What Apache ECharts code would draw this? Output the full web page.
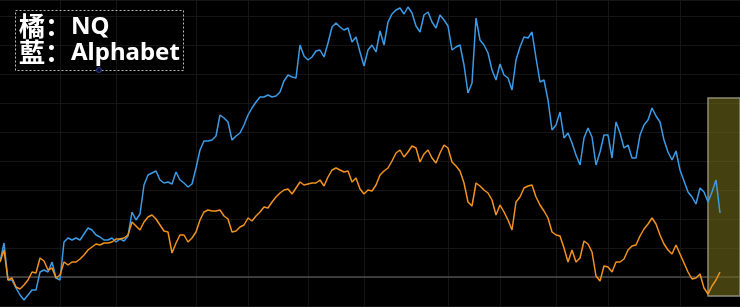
<!DOCTYPE html>
<html>
<head>
<meta charset="utf-8">
<script src="https://cdn.jsdelivr.net/npm/echarts@6/dist/echarts.min.js"></script>
<style>
html,body{margin:0;padding:0;background:#000;}
#c{width:740px;height:307px;}
</style>
</head>
<body>
<div id="c"></div>
<script>
// Relative performance (%), sampled every trading step
const alphabet = [7.5,17,-1.5,-1.5,-5.5,-9,-11.5,-9,-6.5,-6.5,2.5,3.5,2.5,7.5,-0.5,-1.5,17.5,19.5,18.5,19.5,
18.5,21.5,24.5,23.5,21,20,18.5,18.5,19.5,17.5,19,18,20.5,32.5,28.5,31.5,46,51,52,53,
48.5,47,47.5,46.5,52.5,48.5,47,45,46.5,54.5,63.5,68,68,68.5,70.5,81,79.5,77.5,68.5,70.5,
72,76,81,84.5,87.5,90,90,91,90,90.5,92.5,98,101,100,99.5,116,110.5,108.5,110,113,
113.5,110,117,125,127,125,123.5,124.5,117.5,120,112.5,105.5,113.5,116,112.5,123,116,127.5,131.5,133.5,
134.5,131.5,135,132,125.5,122.5,131,132.5,127.5,124.5,131,128.5,125.5,113.5,115,116,106,92,97,129.5,
118.5,116,112,103.5,98.5,106.5,101,99.5,93.5,108.5,115,120,119.5,122.5,109.5,97.5,98.5,88.5,73.5,76,
82.5,69.5,72,67,61,56,69.5,74.5,70,56,62.5,71,71,59.5,77.5,72,64.5,66,59.5,59.5,
71,76,78.5,84.5,80.5,77.5,68.5,62.5,58.5,63,53.5,48,42.5,40,36.5,44.5,42.5,37.5,42.5,48.5,
32];
const nq = [7.5,13.5,-1.5,-0.5,-5,-6,-4,-1.5,2.5,2,9.5,8,3.5,4.5,-0.5,1,7.5,6,7.5,7.5,
9,11,13.5,15,16.5,16,17,17,17.5,19,19,19.5,21,27.5,25.5,23.5,27.5,30,31,29,
26,23,22.5,12,17,21,21,17.5,19.5,22.5,28.5,32.5,33.5,33,33,33.5,30.5,29,22.5,23,
25,26,29.5,28,30.5,32.5,35,34.5,37.5,40,42,43.5,44,41.5,44.5,47.5,46,46.5,47,47,
48.5,45.5,50,53.5,54.5,53.5,52.5,53,47.5,49.5,44,41.5,43.5,43,46,51,53,54.5,58,62,
63.5,60,62.5,65.5,64.5,57.5,61.5,63.5,59.5,57,62,66,64.5,57.5,55.5,53,47,37.5,35.5,47,
45.5,43.5,42,38.5,31,36,32.5,28.5,23.5,37.5,40,44.5,45.5,46,40,36,33,29.5,22.5,21,
20.5,14.5,7.5,13.5,7.5,9.5,18,16.5,12.5,0.5,-2,5.5,5,2.5,7.5,7.5,9,13.5,15.5,16,
20.5,24,26.5,29.5,26.5,21,16.5,13.5,11.5,16,11.5,7,2.5,-1,-0.5,1.5,-5.5,-8.5,-4.5,-1.5,
2.5];
const dayCount = 186;
const days = Array.from({length: dayCount}, (_, i) => 'D' + i);
const monthStarts = [15, 29, 49, 62, 77, 91, 112, 125, 139, 152, 170];
const highlightFrom = 177, highlightTo = 185;
const highlightHigh = 89.5, highlightLow = -9.5;
const legendKeys = ['橘：', '藍：'];
const legendNames = ['NQ', 'Alphabet'];

const chart = echarts.init(document.getElementById('c'), null, {renderer: 'canvas'});
const monthSet = new Set(monthStarts);
const cjkFont = 'bold 26px "Noto Sans CJK SC", sans-serif';
const latinFont = 'bold 24px "Noto Sans", "Open Sans", sans-serif';
chart.setOption({
  backgroundColor: '#000',
  animation: false,
  grid: {left: 0, right: 0, top: 0, bottom: 1, containLabel: false},
  xAxis: {
    type: 'category', data: days, boundaryGap: false,
    axisLine: {show: true, onZero: true, lineStyle: {color: '#4d4d4d', width: 1.5}},
    axisTick: {show: false}, axisLabel: {show: false},
    splitLine: {show: true, interval: (i) => monthSet.has(i), lineStyle: {color: '#161616', width: 1}}
  },
  yAxis: {
    type: 'value', min: -14.5, max: 138.5, interval: 14.5,
    axisLine: {show: false}, axisTick: {show: false}, axisLabel: {show: false},
    splitLine: {show: true, lineStyle: {color: '#151515', width: 1}}
  },
  series: [
    {
      name: 'Alphabet', type: 'line', data: alphabet, showSymbol: false, smooth: false,
      lineStyle: {color: '#3b9be6', width: 1.5}, itemStyle: {color: '#3b9be6'},
      markArea: {
        silent: true,
        itemStyle: {color: 'rgba(112,103,26,0.62)', borderColor: '#8c8c78', borderWidth: 1.5},
        data: [[{xAxis: days[highlightFrom], yAxis: highlightHigh}, {xAxis: days[highlightTo], yAxis: highlightLow}]]
      }
    },
    {
      name: 'NQ', type: 'line', data: nq, showSymbol: false, smooth: false,
      lineStyle: {color: '#f2921f', width: 1.5}, itemStyle: {color: '#f2921f'}
    }
  ],
  graphic: [
    {type: 'rect', left: 15, top: 10, shape: {width: 168, height: 60},
     style: {fill: 'rgba(0,0,0,0)', stroke: '#b8b8b8', lineWidth: 1, lineDash: [2, 2]}, z: 10},
    {type: 'text', x: 19, y: 26, z: 11,
     style: {text: legendKeys[0], fill: '#ffffff', font: cjkFont, verticalAlign: 'middle'}},
    {type: 'text', x: 19, y: 52, z: 11,
     style: {text: legendKeys[1], fill: '#ffffff', font: cjkFont, verticalAlign: 'middle'}},
    {type: 'text', x: 71, y: 27, z: 11,
     style: {text: legendNames[0], fill: '#ffffff', font: latinFont, verticalAlign: 'middle'}},
    {type: 'text', x: 71, y: 53, z: 11,
     style: {text: legendNames[1], fill: '#ffffff', font: latinFont, verticalAlign: 'middle'}},
    {type: 'circle', shape: {cx: 99, cy: 70, r: 2.5}, z: 12,
     style: {fill: '#0a0f30', stroke: '#2a3c8c', lineWidth: 1}}
  ]
});
</script>
</body>
</html>
